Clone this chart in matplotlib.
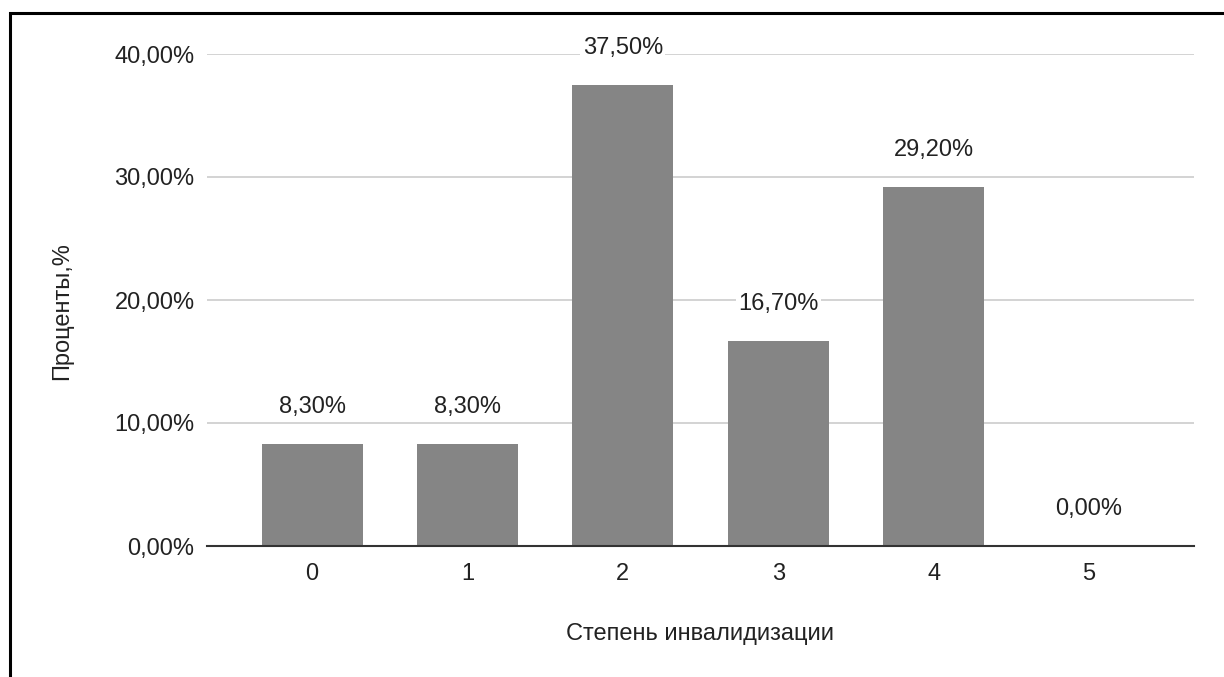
import matplotlib.pyplot as plt
from matplotlib.patches import Rectangle
from matplotlib.ticker import FuncFormatter

plt.rcParams['font.family'] = ['Liberation Sans', 'DejaVu Sans']

categories = ['0', '1', '2', '3', '4', '5']
percents = [8.3, 8.3, 37.5, 16.7, 29.2, 0.0]
labels = ['8,30%', '8,30%', '37,50%', '16,70%', '29,20%', '0,00%']

W, H = 1224, 677
FS = 17
TXT = '#222222'
fig = plt.figure(figsize=(W / 100, H / 100), dpi=100)

# outer frame (clipped at right and bottom like the screenshot)
fig.patches.append(Rectangle((10 / W, -0.1), 1.2, (H - 13) / H + 0.1,
                             transform=fig.transFigure, fill=False,
                             edgecolor='black', linewidth=2.2))

ax = fig.add_axes([207 / W, (H - 546) / H, (1194 - 207) / W, (546 - 54) / H])
x = range(len(categories))
ax.bar(x, percents, width=0.65, color='#858585', zorder=3)

for xi, v, lab in zip(x, percents, labels):
    ax.annotate(lab, (xi, v), xytext=(0, 26.5), textcoords='offset points',
                ha='center', va='center', fontsize=FS, color=TXT, zorder=5,
                bbox=dict(boxstyle='square,pad=0.1', fc='white', ec='none'))

ax.set_xlim(-0.676, 5.675)
ax.set_ylim(0, 40)
ax.set_yticks([0, 10, 20, 30, 40])
ax.yaxis.set_major_formatter(FuncFormatter(lambda v, p: f'{v:.2f}%'.replace('.', ',')))
ax.set_xticks(list(x))
ax.set_xticklabels(categories)
ax.grid(axis='y', color='#cccccc', linewidth=1.2, zorder=0)
for s in ['top', 'right', 'left']:
    ax.spines[s].set_visible(False)
ax.spines['bottom'].set_color('#333333')
ax.spines['bottom'].set_linewidth(1.5)
ax.spines['bottom'].set_zorder(4)
ax.tick_params(axis='both', length=0, labelsize=FS, colors=TXT)
ax.tick_params(axis='y', pad=9)
ax.tick_params(axis='x', pad=12)

fig.text(62 / W, 1 - 311 / H, 'Проценты,%', rotation=90, ha='center', va='center',
         fontsize=FS, color=TXT)
fig.text(700 / W, 1 - 634 / H, 'Степень инвалидизации', ha='center', va='center',
         fontsize=FS, color=TXT)

fig.savefig('out.png', dpi=100, facecolor='white')
